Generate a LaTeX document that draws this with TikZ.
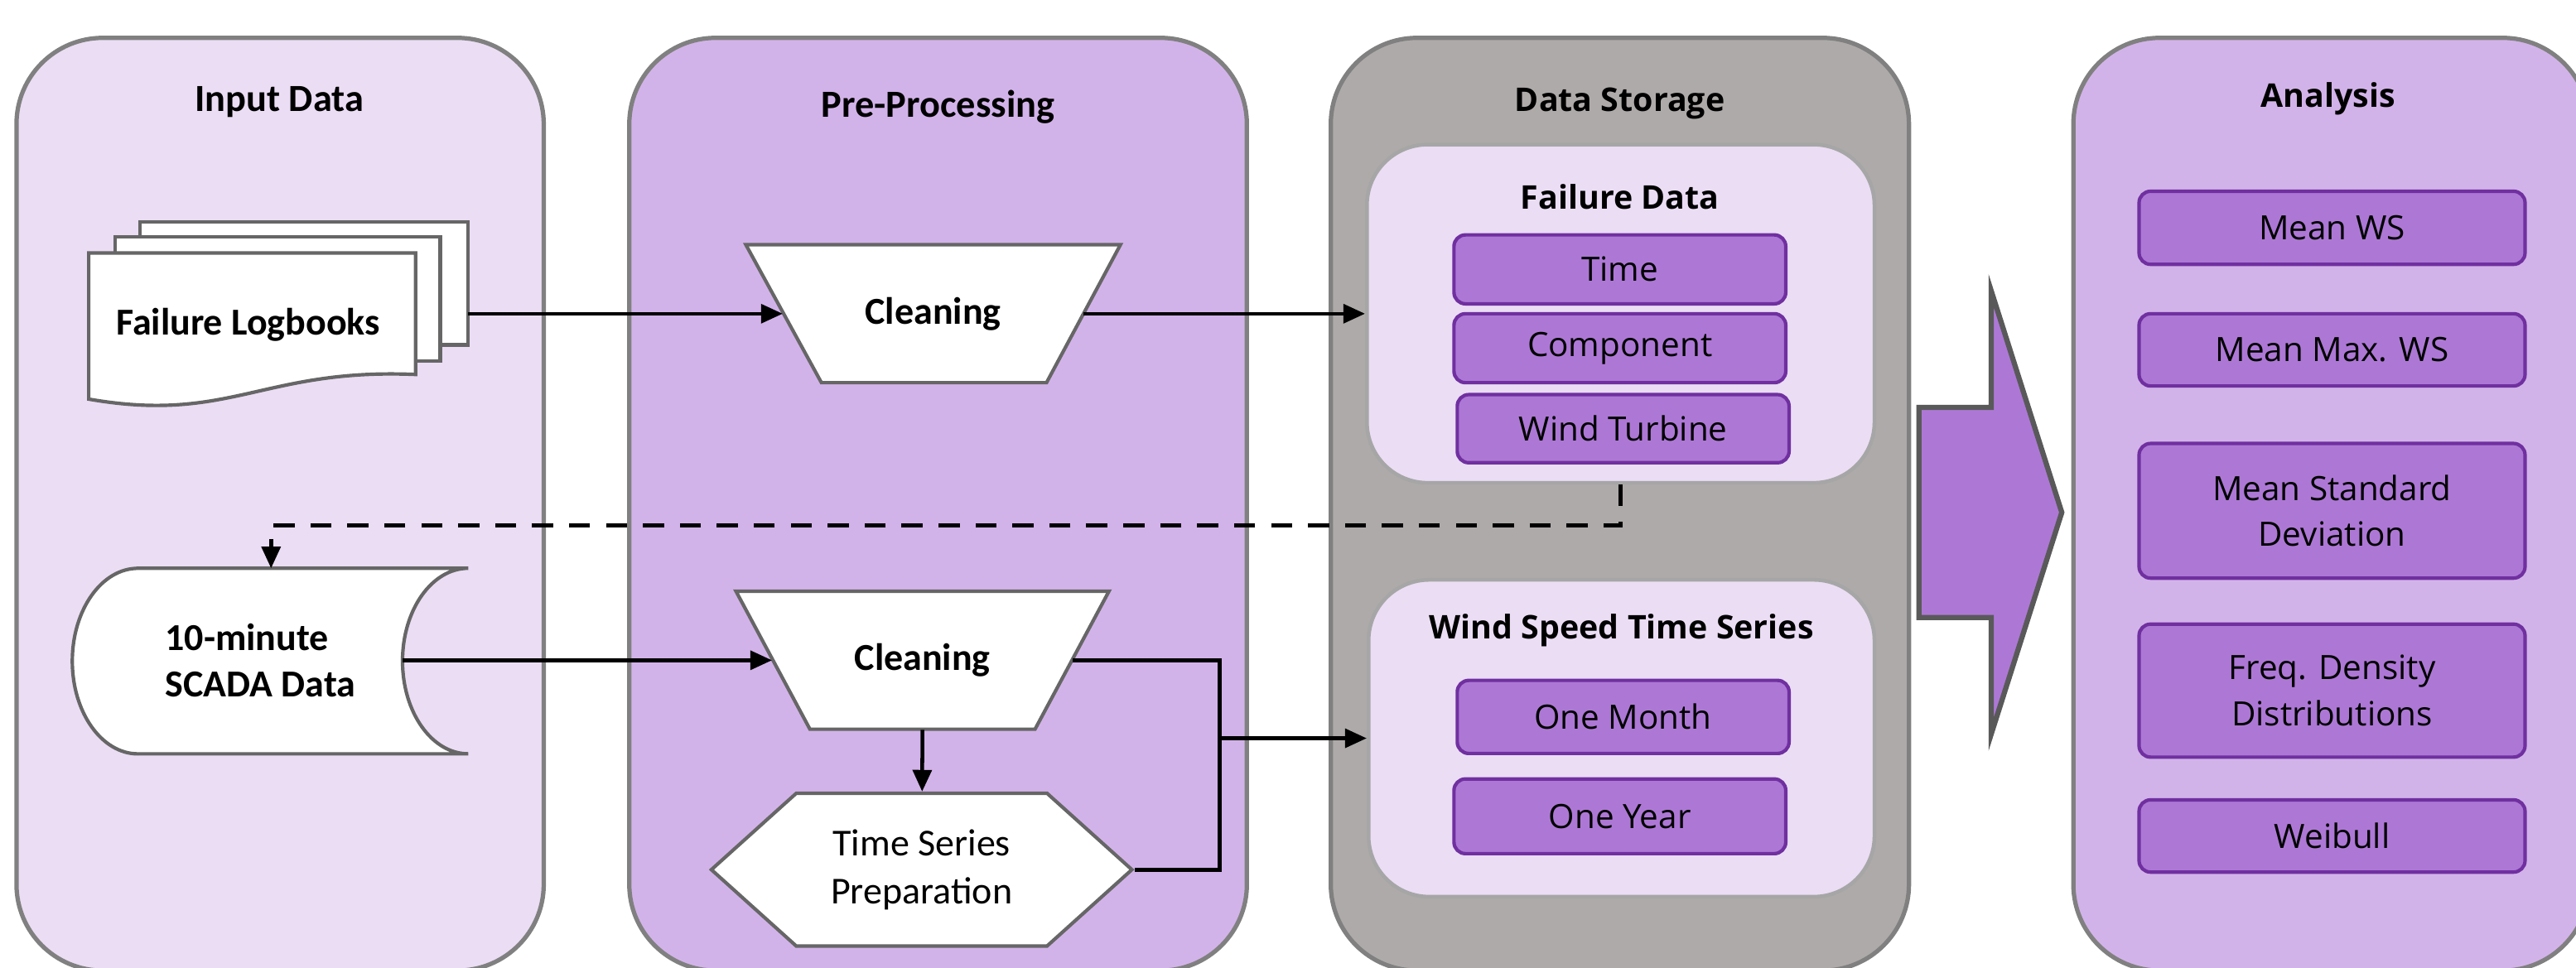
\documentclass[tikz,border=0pt]{standalone}
\usepackage{fontspec}
\usepackage{xcolor}
\usepackage{tikz}
\usetikzlibrary{shapes.symbols, arrows.meta}
\newfontfamily\calfont{Carlito}
\newfontfamily\segfont{Open Sans}
\definecolor{lightlav}{HTML}{EADDF4}
\definecolor{midlav}{HTML}{D2B3E9}
\definecolor{storegray}{HTML}{AEAAA9}
\definecolor{itemfill}{HTML}{AD78D5}
\definecolor{itemedge}{HTML}{7030A0}
\definecolor{panelgray}{HTML}{808080}
\definecolor{innergray}{HTML}{A6A6A6}
\definecolor{shapegray}{HTML}{666666}
\definecolor{arrowgray}{HTML}{595959}

\begin{document}
\begin{tikzpicture}[x=0.02cm, y=-0.02cm,
        panel/.style={draw=panelgray, line width=1.5pt, rounded corners=1.05cm, minimum height=11.36cm},
        innerpanel/.style={draw=innergray, fill=lightlav, line width=1.3pt, rounded corners=0.74cm},
        paneltitle/.style={font=\calfont\bfseries\fontsize{13.3}{16.5}\selectfont},
        segtitle/.style={font=\segfont\bfseries\fontsize{11.3}{14}\selectfont},
        boldtext/.style={font=\calfont\bfseries\fontsize{13.2}{16.2}\selectfont},
        item/.style={draw=itemedge, fill=itemfill, line width=1.2pt, rounded corners=0.14cm,
            align=center, font=\segfont\fontsize{11.6}{16}\selectfont},
        shapeline/.style={draw=shapegray, fill=white, line width=1.2pt},
        trapbox/.style={minimum width=4.56cm, minimum height=1.68cm, boldtext},
        hexa/.style={shapeline, shape=signal, signal to=east and west, signal pointer angle=84,
            minimum width=5.12cm, minimum height=1.86cm, align=center,
            font=\calfont\fontsize{13.2}{16.5}\selectfont},
        conn/.style={line width=1.3pt},
        flow/.style={conn, -{Triangle[length=7.5pt, width=6.5pt]}},
        dashflow/.style={flow, dash pattern=on 7.3pt off 5.5pt}]
        \path[use as bounding box] (0,0) rectangle (1568,589);
        \clip (0,0) rectangle (1568,589);

        \node[panel, fill=lightlav, minimum width=6.42cm] (inputpanel) at (170.5,307) {};
        \node[paneltitle] (inputtitle) at (170,62) {Input Data};
        \node[panel, fill=midlav, minimum width=7.52cm] (prepanel) at (571,307) {};
        \node[paneltitle] (pretitle) at (571,65) {Pre-Processing};
        \node[panel, fill=storegray, minimum width=7.04cm] (storepanel) at (986,307) {};
        \node[segtitle] (storetitle) at (986,63) {Data Storage};
        \node[panel, fill=midlav, minimum width=6.28cm] (analysispanel) at (1419,307) {};
        \node[segtitle] (analysistitle) at (1417,60) {Analysis};

        \draw[shapeline] (85,135) rectangle (285,210);
        \draw[shapeline] (70,144) rectangle (268,220);
        \draw[shapeline] (54,154) -- (253,154) -- (253,228) .. controls (160,224) and (140,258) .. (54,243) -- cycle;
        \node[boldtext] (logbooks) at (151,198) {Failure Logbooks};
        \coordinate (logout) at (285,191);

        \draw[shapeline] (84,346) -- (285,346) arc[start angle=90, end angle=270, x radius=0.8cm, y radius=1.13cm]
            -- (84,459) arc[start angle=270, end angle=90, x radius=0.8cm, y radius=1.13cm] -- cycle;
        \node[boldtext, align=left] (scada) at (158.5,402) {10-minute\\SCADA Data};
        \coordinate (scadaout) at (245,402);
        \coordinate (scadatop) at (165,346);

        \path[shapeline] (454,149) -- (682,149) -- (637,233) -- (500,233) -- cycle;
        \node[trapbox] (clean1) at (568,191) {Cleaning};
        \path[shapeline] (448,360) -- (675,360) -- (630,444) -- (493,444) -- cycle;
        \node[trapbox] (clean2) at (561.5,402) {Cleaning};
        \node[hexa] (tsprep) at (561,529.5) {Time Series\\Preparation};

        \node[innerpanel, minimum width=6.18cm, minimum height=4.12cm] (faildata) at (986.5,191) {};
        \node[segtitle] (failtitle) at (986,120) {Failure Data};
        \node[item, minimum width=4.04cm, minimum height=0.84cm] (time) at (986,164) {Time};
        \node[item, minimum width=4.04cm, minimum height=0.84cm] (component) at (986,212) {Component};
        \node[item, minimum width=4.04cm, minimum height=0.83cm] (turbine) at (988,261) {Wind Turbine};

        \node[innerpanel, minimum width=6.16cm, minimum height=3.86cm] (windts) at (987,449.5) {};
        \node[segtitle] (windtitle) at (987,384) {Wind Speed Time Series};
        \node[item, minimum width=4.04cm, minimum height=0.89cm] (month) at (988,436.5) {One Month};
        \node[item, minimum width=4.04cm, minimum height=0.91cm] (year) at (986,497) {One Year};

        \draw[draw=arrowgray, fill=itemfill, line width=1.8pt] (1168,248) -- (1212,248) -- (1212,177) -- (1255,312)
            -- (1212,447) -- (1212,376) -- (1168,376) -- cycle;

        \node[item, minimum width=4.7cm, minimum height=0.89cm] (meanws) at (1419.5,138.7) {Mean WS};
        \node[item, minimum width=4.7cm, minimum height=0.88cm] (meanmax) at (1419.5,213) {Mean Max. WS};
        \node[item, minimum width=4.7cm, minimum height=1.64cm] (meanstd) at (1419.5,311) {Mean Standard\\Deviation};
        \node[item, minimum width=4.7cm, minimum height=1.62cm] (freq) at (1419.5,420.5) {Freq. Density\\Distributions};
        \node[item, minimum width=4.7cm, minimum height=0.88cm] (weibull) at (1419.5,509) {Weibull};

        \draw[flow] (logout) -- ([xshift=0.455cm]clean1.west);
        \draw[flow] ([xshift=-0.455cm]clean1.east) -- (faildata);
        \draw[flow] (scadaout) -- ([xshift=0.455cm]clean2.west);
        \draw[flow] (clean2.south) -- (tsprep);
        \coordinate (bus) at (742.5,449.5);
        \draw[conn] ([xshift=-0.455cm]clean2.east) -- (clean2 -| bus) -- (tsprep.east -| bus) -- (tsprep.east);
        \draw[flow] (bus) -- (windts);
        \draw[dashflow] (faildata.south) -- (faildata.south |- 0,320) -| (scadatop);
\end{tikzpicture}
\end{document}
